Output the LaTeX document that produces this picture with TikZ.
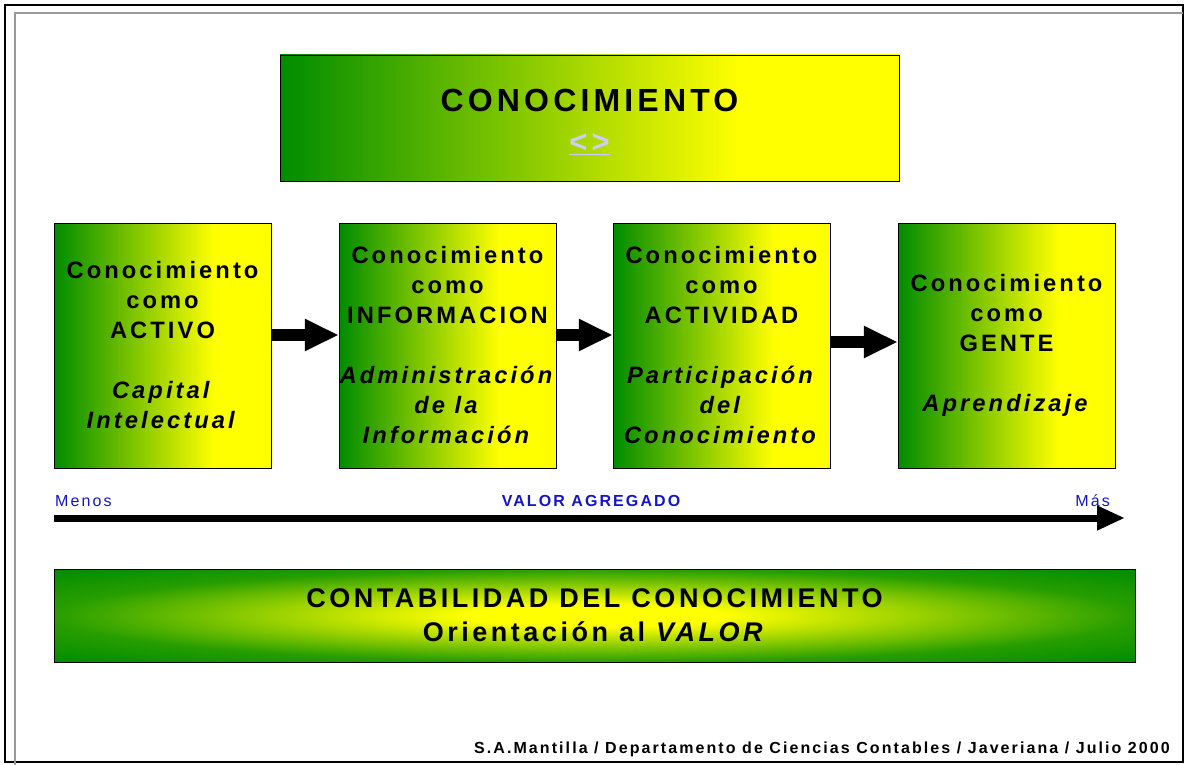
\documentclass[tikz,border=0pt]{standalone}
\usepackage{fontspec}
\setmainfont{Liberation Sans}[LetterSpace=13]
\usepackage{tikz}
\usetikzlibrary{positioning, arrows.meta}

\definecolor{verde}{RGB}{0,140,0}
\definecolor{amarillo}{RGB}{255,255,0}
\definecolor{azul}{RGB}{20,20,200}
\definecolor{lila}{RGB}{204,204,255}

\pgfdeclarehorizontalshading{verdeamarillo}{100bp}{color(0bp)=(verde); color(25bp)=(verde); color(62bp)=(amarillo); color(100bp)=(amarillo)}
\pgfdeclareradialshading{centroamarillo}{\pgfpoint{0bp}{0bp}}{color(0bp)=(amarillo); color(6bp)=(amarillo); color(25bp)=(verde!85!amarillo); color(35bp)=(verde); color(50bp)=(verde)}

\tikzset{
    caja/.style={draw=black, shade, shading=verdeamarillo, inner sep=0pt, minimum width=217pt, minimum height=245pt, align=center, font=\bfseries\fontsize{23.7}{30}\selectfont},
    flecha/.style={line width=12pt, -{Triangle[length=34pt, width=30pt]}},
    flechalarga/.style={line width=7pt, -{Triangle[length=28pt, width=23pt]}},
    etiqueta/.style={text=azul, inner sep=0pt, font=\fontsize{16}{19}\selectfont}
}

\begin{document}
\begin{tikzpicture}[x=1pt, y=-1pt]
    \useasboundingbox (0, 0) rectangle (1185, 765);
    % marco
    \draw[line width=1.5pt] (5, 5) rectangle (1183, 762);
    \draw[black!40, line width=1.5pt] (15, 765) -- (15, 13) -- (1183, 13);

    \node[draw=black, shade, shading=verdeamarillo, inner sep=0pt, minimum width=619pt, minimum height=126pt, align=center, font=\bfseries\fontsize{32}{41}\selectfont] (0) at (589.5, 118)
        {\rule{0pt}{30pt}CONOCIMIENTO\\{\color{lila}\fontsize{31}{41}\selectfont\underline{<>}}};

    \node[caja] (1) at (162.5, 345.5) {Conocimiento\\como\\ACTIVO\\[30pt] \textit{Capital}\\\textit{Intelectual}};
    \node[caja] (2) at (447.5, 345.5) {Conocimiento\\como\\INFORMACION\\[30pt] \textit{Administración}\\\textit{de la}\\\textit{Información}};
    \node[caja] (3) at (721.5, 345.5) {Conocimiento\\como\\ACTIVIDAD\\[30pt] \textit{Participación}\\\textit{del}\\\textit{Conocimiento}};
    \node[caja] (4) at (1006.5, 345.5) {Conocimiento\\como\\GENTE\\[30pt] \textit{Aprendizaje}};

    \draw[flecha] ([yshift=10.5pt]1.east) -- ([yshift=10.5pt]2.west);
    \draw[flecha] ([yshift=10.5pt]2.east) -- ([yshift=10.5pt]3.west);
    \draw[flecha] ([yshift=3.5pt]3.east) -- ([yshift=3.5pt]4.west);

    \node[etiqueta, anchor=base west] (menos) at (55, 506) {Menos};
    \node[etiqueta, anchor=base, font=\bfseries\fontsize{16}{19}\selectfont] (valor) at (591, 506) {VALOR AGREGADO};
    \node[etiqueta, anchor=base east] (mas) at (1110, 506) {Más};
    \coordinate (izq) at (54, 518);
    \coordinate (der) at (1125, 518);
    \draw[flechalarga] (izq) -- (der);

    \node[draw=black, shade, shading=centroamarillo, inner sep=0pt, minimum width=1081pt, minimum height=93pt, align=center, font=\bfseries\fontsize{27}{34}\selectfont] (contab) at (594.5, 615.5)
        {CONTABILIDAD DEL CONOCIMIENTO\\Orientación al \textit{VALOR}};

    \node[anchor=base east, inner sep=0pt, font=\bfseries\fontsize{16}{19}\selectfont] (firma) at (1170, 753)
        {S.A.Mantilla / Departamento de Ciencias Contables / Javeriana / Julio 2000};
\end{tikzpicture}
\end{document}
